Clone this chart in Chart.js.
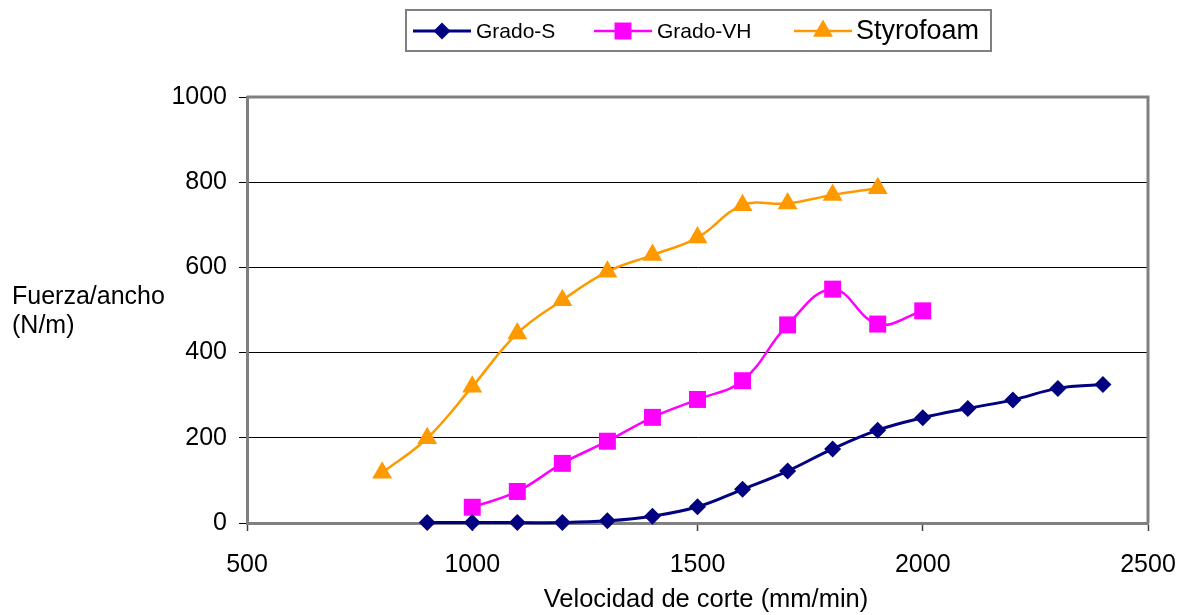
<!DOCTYPE html>
<html>
<head>
<meta charset="utf-8">
<script src="https://cdn.jsdelivr.net/npm/chart.js@4.4.1/dist/chart.umd.min.js"></script>
<style>
  html, body { margin: 0; padding: 0; background: #ffffff; }
  #wrap { width: 1189px; height: 615px; }
</style>
</head>
<body>
<div id="wrap"><canvas id="c" width="1189" height="615"></canvas></div>
<script>
// ---- data ----
const seriesNames = ['Grado-S', 'Grado-VH', 'Styrofoam'];
const gradoS_x = [900, 1000, 1100, 1200, 1300, 1400, 1500, 1600, 1700, 1800, 1900, 2000, 2100, 2200, 2300, 2400];
const gradoS_y = [1, 1, 1, 1, 5, 16, 38, 79, 122, 174, 218, 247, 269, 289, 316, 325];
const gradoVH_x = [1000, 1100, 1200, 1300, 1400, 1500, 1600, 1700, 1800, 1900, 2000];
const gradoVH_y = [37, 74, 140, 192, 248, 290, 334, 465, 549, 467, 498];
const styro_x = [800, 900, 1000, 1100, 1200, 1300, 1400, 1500, 1600, 1700, 1800, 1900];
const styro_y = [118, 199, 320, 445, 523, 590, 629, 670, 746, 750, 770, 786];
const xTicks = [500, 1000, 1500, 2000, 2500];
const yTicks = [0, 200, 400, 600, 800, 1000];
const xTitle = 'Velocidad de corte (mm/min)';
const yTitleLines = ['Fuerza/ancho', '(N/m)'];

const colors = ['#000080', '#FF00FF', '#FF9900'];
const styles = ['rectRot', 'rect', 'triangle'];
const radii = [8.5, 12, 11.5];
const widths = [3, 2.5, 2.5];

function pts(xs, ys) { return xs.map((x, i) => ({ x: x, y: ys[i] })); }

const FONT = '"Liberation Sans", Arial, sans-serif';

function drawMarker(ctx, style, x, y, r, color) {
  ctx.save();
  ctx.fillStyle = color;
  ctx.beginPath();
  if (style === 'rectRot') {
    ctx.moveTo(x - r, y); ctx.lineTo(x, y - r); ctx.lineTo(x + r, y); ctx.lineTo(x, y + r);
  } else if (style === 'rect') {
    const s = Math.SQRT1_2 * r;
    ctx.rect(x - s, y - s, 2 * s, 2 * s);
  } else {
    const a = Math.PI * 2 / 3;
    ctx.moveTo(x, y - r);
    ctx.lineTo(x + Math.sin(a) * r, y - Math.cos(a) * r);
    ctx.lineTo(x + Math.sin(2 * a) * r, y - Math.cos(2 * a) * r);
  }
  ctx.closePath();
  ctx.fill();
  ctx.restore();
}

const decor = {
  id: 'decor',
  beforeDatasetsDraw(chart) {
    const ctx = chart.ctx, a = chart.chartArea;
    ctx.save();
    ctx.strokeStyle = '#808080';
    ctx.lineWidth = 3;
    ctx.beginPath();
    ctx.moveTo(a.left, a.top); ctx.lineTo(a.right, a.top); ctx.lineTo(a.right, a.bottom);
    ctx.stroke();
    ctx.restore();
  },
  afterDraw(chart) {
    const ctx = chart.ctx;
    ctx.save();
    // y title
    ctx.fillStyle = '#000';
    ctx.font = '25px ' + FONT;
    ctx.textAlign = 'left';
    ctx.textBaseline = 'middle';
    ctx.fillText(yTitleLines[0], 12, 297);
    ctx.fillText(yTitleLines[1], 12, 326);
    // x title
    ctx.textAlign = 'center';
    ctx.font = '25.5px ' + FONT;
    ctx.fillText(xTitle, 706, 600);
    // legend box
    ctx.strokeStyle = '#808080';
    ctx.lineWidth = 2;
    ctx.fillStyle = '#fff';
    ctx.fillRect(406, 10, 585, 41);
    ctx.strokeRect(406, 10, 585, 41);
    const items = [
      { x0: 413, x1: 471, tx: 476, size: 21 },
      { x0: 594, x1: 652, tx: 657, size: 21 },
      { x0: 794, x1: 852, tx: 856, size: 27 }
    ];
    const ly = 31;
    items.forEach((it, i) => {
      ctx.strokeStyle = colors[i];
      ctx.lineWidth = widths[i];
      ctx.beginPath();
      ctx.moveTo(it.x0, ly); ctx.lineTo(it.x1, ly);
      ctx.stroke();
      drawMarker(ctx, styles[i], (it.x0 + it.x1) / 2, ly, radii[i], colors[i]);
      ctx.fillStyle = '#000';
      ctx.font = it.size + 'px ' + FONT;
      ctx.textAlign = 'left';
      ctx.textBaseline = 'middle';
      ctx.fillText(seriesNames[i], it.tx, ly + 1);
    });
    ctx.restore();
  }
};

const datasets = [
  { xs: gradoS_x, ys: gradoS_y },
  { xs: gradoVH_x, ys: gradoVH_y },
  { xs: styro_x, ys: styro_y }
].map((s, i) => ({
  label: seriesNames[i],
  data: pts(s.xs, s.ys),
  borderColor: colors[i],
  backgroundColor: colors[i],
  borderWidth: widths[i],
  pointStyle: styles[i],
  pointRadius: radii[i],
  pointHoverRadius: radii[i],
  pointBorderWidth: 0,
  pointBackgroundColor: colors[i],
  tension: 0.4,
  fill: false,
  clip: false
}));

new Chart(document.getElementById('c'), {
  type: 'line',
  data: { datasets: datasets },
  options: {
    responsive: false,
    animation: false,
    events: [],
    layout: { padding: { top: 97, right: 41, left: 0, bottom: 0 } },
    plugins: { legend: { display: false }, tooltip: { enabled: false }, title: { display: false } },
    scales: {
      x: {
        type: 'linear',
        min: 500, max: 2500,
        afterBuildTicks(scale) { scale.ticks = xTicks.map(v => ({ value: v })); },
        afterFit(scale) { scale.height = 92; scale.paddingLeft = 0; scale.paddingRight = 0; },
        ticks: { color: '#000', font: { family: FONT, size: 25 }, padding: 19, maxRotation: 0, callback: v => String(v) },
        grid: { drawOnChartArea: false, drawTicks: true, tickLength: 8, tickColor: '#404040', tickWidth: 1.5 },
        border: { color: '#808080', width: 3 }
      },
      y: {
        type: 'linear',
        min: 0, max: 1000,
        afterBuildTicks(scale) { scale.ticks = yTicks.map(v => ({ value: v })); },
        afterFit(scale) { scale.width = 247; scale.paddingTop = 0; scale.paddingBottom = 0; },
        ticks: { color: '#000', font: { family: FONT, size: 25 }, padding: 12, callback: v => String(v) },
        grid: { color: '#000', lineWidth: 1, tickLength: 8, tickColor: '#000' },
        border: { color: '#808080', width: 3 }
      }
    }
  },
  plugins: [decor]
});
</script>
</body>
</html>
